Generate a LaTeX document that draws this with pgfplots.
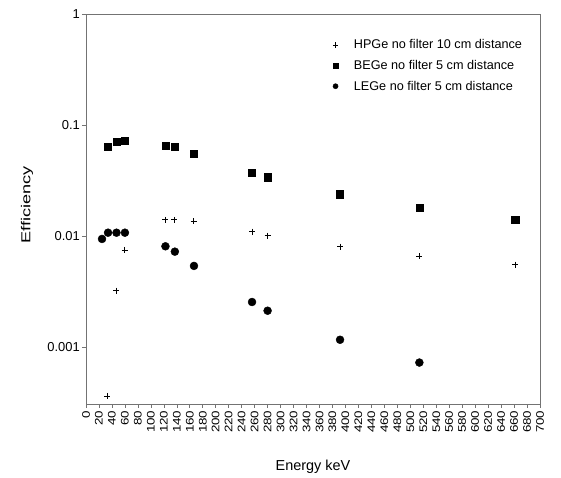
\documentclass[border=0pt]{standalone}
\usepackage{pgfplots}
\pgfplotsset{compat=1.18}
\usepackage{fontspec}
\setmainfont{Liberation Sans}
\begin{document}
\begin{tikzpicture}
\begin{axis}[
  name=ax,
  scale only axis,
  width=454bp, height=390bp,
  xmin=0, xmax=700,
  ymode=log, ymin=3.06e-4, ymax=1,
  axis line style={draw=black!55, line width=0.8pt},
  xtick={0,20,...,700},
  xticklabel style={rotate=90, xscale=1.22, anchor=east, font=\fontsize{11}{12}\selectfont, inner sep=2pt},
  /pgf/number format/assume math mode=true,
  ytick={0.001,0.01,0.1,1},
  yticklabels={0.001,0.01,0.1,1},
  yticklabel style={font=\fontsize{13}{14}\selectfont, inner sep=2pt},
  yminorticks=false,
  tick align=outside,
  tick style={draw=black!55, line width=0.6pt},
  major tick length=4bp,
  xtick pos=bottom, ytick pos=left,
  xlabel={Energy keV},
  ylabel={Efficiency},
  xlabel style={at={(axis description cs:0.5,-0.1615)}, anchor=center, font=\fontsize{14.5}{16}\selectfont},
  ylabel style={at={(axis description cs:-0.130,0.51)}, anchor=center, rotate=0, xscale=1.4, font=\fontsize{13}{14}\selectfont},
  legend style={at={(rel axis cs:0.5396,0.940)}, anchor=north west, draw=none, fill=none, inner sep=0pt,
    font=\fontsize{12.7}{14}\selectfont, row sep=6bp, legend cell align=left},
  legend image code/.code={\path (-4bp,0bp) (16bp,0bp); \draw[#1, mark size=2.6pt] plot coordinates {(0bp,0bp)};},
  clip=false,
]
\addplot[only marks, mark=+, mark size=3pt, black, line width=0.75pt] coordinates {
(33,0.000362) (46.5,0.00321) (59.5,0.00748) (122,0.0140) (136,0.0140) (166,0.01355)
(256,0.01093) (280,0.01006) (391.7,0.00802) (514,0.00657) (661.7,0.00551)
};
\addlegendentry{HPGe no filter 10 cm distance}
\addplot[only marks, mark=square*, mark size=3.6pt, black] coordinates {
(34,0.0634) (47,0.0708) (60,0.0728) (122.5,0.0652) (137,0.0634) (166.5,0.0551)
(256,0.0371) (280,0.0338) (391.7,0.0238) (514,0.0180) (661.7,0.0139)
};
\addlegendentry{BEGe no filter 5 cm distance}
\addplot[only marks, mark=*, mark size=4pt, black] coordinates {
(24.7,0.0094) (34,0.0107) (47,0.0107) (60,0.0107) (122.5,0.00807) (137,0.00722)
(166.5,0.00537) (256,0.00254) (280,0.00212) (391.7,0.00116) (514,0.000723)
};
\addlegendentry{LEGe no filter 5 cm distance}
\end{axis}
\pgfresetboundingbox
\path[use as bounding box] ([xshift=-86bp,yshift=-74bp]ax.south west) rectangle ([xshift=21bp,yshift=14bp]ax.north east);
\end{tikzpicture}
\end{document}
